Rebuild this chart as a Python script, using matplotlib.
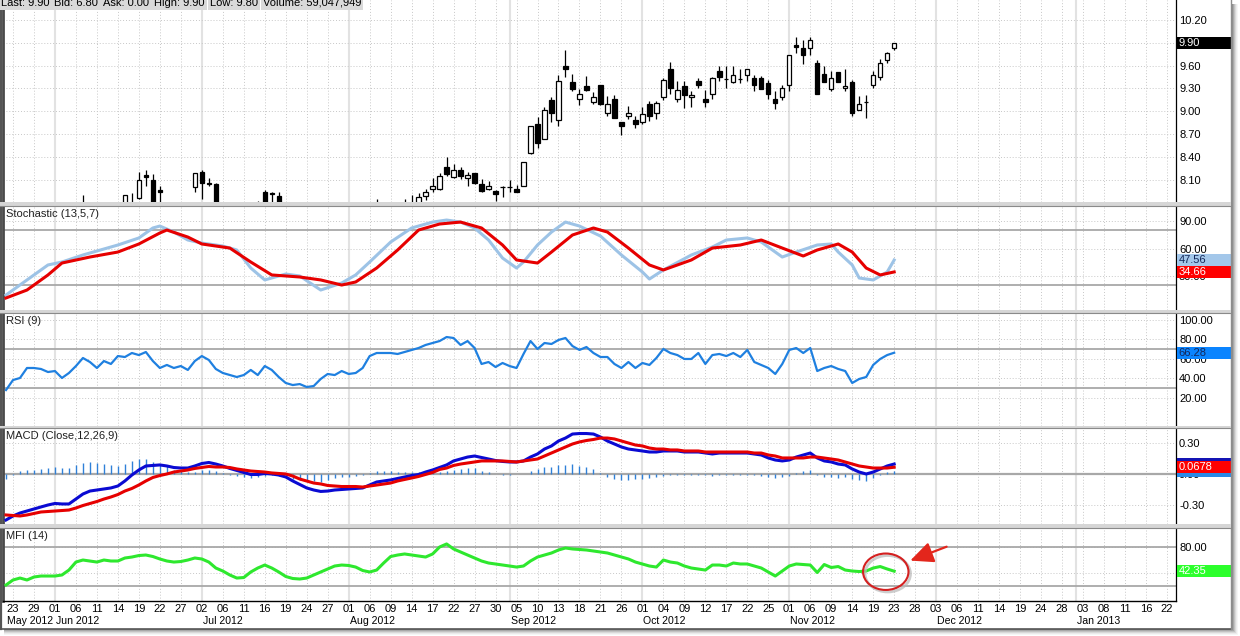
import numpy as np
import pandas as pd
import matplotlib
matplotlib.use('Agg')
import matplotlib.pyplot as plt
import matplotlib.transforms as mtrans
from matplotlib.patches import Rectangle, Ellipse
from matplotlib.lines import Line2D

plt.rcParams['font.family'] = ['Liberation Sans', 'DejaVu Sans']
plt.rcParams['font.size'] = 8

# trading calendar (US market, incl. the Sandy closure)
holidays = ['2012-05-28', '2012-07-04', '2012-09-03', '2012-10-29', '2012-10-30',
            '2012-11-22', '2012-12-25', '2013-01-01', '2013-01-21']
days = pd.bdate_range('2012-05-22', '2013-01-22')
days = days[~days.isin(pd.to_datetime(holidays))]

header = ['Last: 9.90', 'Bid: 6.80', 'Ask: 0.00', 'High: 9.90', 'Low: 9.80', 'Volume: 59,047,949']

# candles (day index into days, 0 = 2012-05-22); only the ones that show in the window
cdl_day = [11, 17, 18, 19, 20, 21, 22, 27, 28, 29, 30, 36, 37, 38, 39, 53] + list(range(57, 128))
cdl_open = [7.74, 7.72, 7.75, 7.86, 8.16, 8.10, 7.96, 8.00, 8.20, 8.05, 8.04, 7.70, 7.93, 7.92, 7.88, 7.72,
            7.72, 7.72, 7.74, 7.88, 7.97, 7.97, 8.26, 8.13, 8.23, 8.12, 8.19, 8.04, 7.97, 7.95, 8.00, 8.00,
            7.98, 8.02, 8.45, 8.83, 8.63, 9.15, 8.88, 9.59, 9.38, 9.16, 9.33, 9.12, 9.34, 8.98, 9.16, 8.86,
            8.93, 8.88, 8.86, 9.09, 8.97, 9.19, 9.55, 9.16, 9.33, 9.18, 9.39, 9.16, 9.23, 9.53, 9.42, 9.38,
            9.42, 9.47, 9.43, 9.44, 9.37, 9.16, 9.19, 9.34, 9.87, 9.83, 9.83, 9.63, 9.49, 9.29, 9.51, 9.30,
            9.38, 9.01, 9.12, 9.35, 9.45, 9.67, 9.83]
cdl_high = [7.90, 7.90, 7.92, 8.20, 8.22, 8.17, 8.01, 8.19, 8.22, 8.12, 8.06, 7.82, 7.96, 7.94, 7.94, 7.84,
            7.84, 7.90, 7.92, 7.97, 8.12, 8.18, 8.40, 8.31, 8.27, 8.20, 8.19, 8.11, 8.08, 7.96, 8.01, 8.09,
            8.03, 8.33, 8.80, 8.92, 9.05, 9.19, 9.48, 9.80, 9.49, 9.29, 9.46, 9.25, 9.34, 9.20, 9.21, 8.86,
            9.07, 8.93, 9.06, 9.13, 9.13, 9.43, 9.65, 9.39, 9.39, 9.27, 9.43, 9.28, 9.45, 9.59, 9.60, 9.59,
            9.56, 9.55, 9.48, 9.46, 9.41, 9.26, 9.34, 9.74, 9.98, 9.93, 9.97, 9.67, 9.59, 9.53, 9.52, 9.55,
            9.41, 9.20, 9.21, 9.53, 9.69, 9.78, 9.90]
cdl_low = [7.62, 7.68, 7.66, 7.84, 8.01, 7.70, 7.75, 7.94, 7.85, 8.01, 7.70, 7.65, 7.72, 7.75, 7.70, 7.68,
           7.68, 7.68, 7.72, 7.83, 7.93, 7.96, 8.14, 8.12, 8.11, 8.02, 8.04, 7.94, 7.96, 7.82, 7.87, 7.94,
           7.94, 8.02, 8.44, 8.52, 8.63, 8.86, 8.80, 9.45, 9.26, 9.08, 9.26, 9.09, 9.08, 8.94, 8.91, 8.69,
           8.89, 8.78, 8.83, 8.87, 8.90, 9.15, 9.23, 9.12, 9.04, 9.05, 9.30, 9.05, 9.16, 9.39, 9.30, 9.37,
           9.37, 9.40, 9.27, 9.29, 9.16, 9.03, 9.14, 9.27, 9.76, 9.62, 9.74, 9.22, 9.38, 9.26, 9.38, 9.27,
           8.94, 9.01, 8.91, 9.31, 9.41, 9.63, 9.80]
cdl_close = [7.70, 7.90, 7.74, 8.10, 8.13, 7.72, 7.93, 8.19, 8.05, 8.04, 7.72, 7.74, 7.74, 7.91, 7.72, 7.74,
             7.75, 7.74, 7.87, 7.93, 8.01, 8.15, 8.17, 8.22, 8.14, 8.16, 8.06, 7.95, 8.01, 7.91, 8.00, 8.00,
             7.94, 8.33, 8.80, 8.58, 9.02, 8.97, 9.40, 9.55, 9.29, 9.22, 9.28, 9.18, 9.09, 9.09, 8.91, 8.81,
             8.97, 8.83, 8.96, 8.93, 9.11, 9.41, 9.31, 9.28, 9.21, 9.21, 9.34, 9.12, 9.43, 9.45, 9.42, 9.48,
             9.42, 9.55, 9.34, 9.29, 9.23, 9.11, 9.31, 9.74, 9.84, 9.74, 9.93, 9.22, 9.38, 9.43, 9.38, 9.33,
             8.98, 9.09, 9.12, 9.48, 9.63, 9.76, 9.90]

# Stochastic (13,5,7), read at a subset of days
stoch_k_day = [0, 3, 6, 8, 11, 16, 19, 21, 22, 24, 26, 28, 31, 33, 35, 37, 40, 42, 45, 48, 50, 52, 55, 58,
               61, 63, 65, 67, 69, 71, 73, 74, 76, 78, 80, 82, 85, 88, 91, 92, 94, 98, 101, 103, 106, 108,
               110, 111, 113, 116, 118, 119, 121, 122, 124, 126, 127]
stoch_k = [9.7, 26.0, 42.2, 45.4, 53.0, 63.8, 71.4, 82.2, 84.3, 77.8, 69.2, 65.9, 62.7, 58.4, 38.9, 26.0,
           32.4, 30.3, 15.1, 22.7, 31.4, 45.4, 67.0, 82.2, 88.6, 90.8, 88.6, 82.2, 69.2, 49.7, 38.9, 45.4,
           63.8, 77.8, 88.6, 84.3, 73.5, 53.0, 34.6, 27.0, 36.8, 53.0, 61.6, 69.2, 71.4, 67.0, 56.2, 50.8,
           56.2, 63.8, 64.9, 56.2, 42.2, 28.1, 26.0, 34.6, 47.56]
stoch_d_day = [0, 3, 6, 8, 12, 16, 19, 22, 23, 26, 28, 32, 35, 38, 42, 45, 48, 50, 53, 56, 59, 62, 65, 68,
               71, 73, 76, 78, 81, 84, 86, 89, 92, 94, 98, 101, 105, 108, 111, 114, 116, 119, 121, 123, 125, 127]
stoch_d = [6.5, 15.1, 31.4, 44.3, 50.8, 56.2, 64.9, 76.8, 80.0, 72.4, 64.9, 60.5, 45.4, 31.4, 29.2, 26.0,
           20.5, 23.8, 38.9, 58.4, 80.0, 86.5, 88.6, 82.2, 63.8, 47.6, 44.3, 56.2, 74.6, 82.2, 77.8, 60.5,
           42.2, 36.8, 47.6, 60.5, 63.8, 69.2, 60.5, 51.9, 58.4, 64.9, 56.2, 38.9, 31.4, 34.66]

# daily indicators, day 0 .. 127
rsi = [28.2, 38.4, 40.5, 50.7, 50.7, 49.7, 46.6, 47.6, 40.5, 45.6,
       52.7, 60.9, 56.8, 50.7, 57.8, 54.8, 62.9, 61.9, 66.0, 63.9,
       67.0, 57.8, 50.7, 53.8, 50.7, 52.7, 48.7, 57.8, 62.9, 58.9,
       49.7, 45.6, 43.5, 41.5, 43.5, 48.7, 43.5, 52.7, 48.7, 41.5,
       35.4, 33.3, 34.3, 31.3, 32.3, 39.5, 44.6, 43.5, 47.6, 44.6,
       45.6, 50.7, 62.9, 66.0, 66.0, 66.0, 65.0, 67.0, 69.1, 71.1,
       74.2, 76.2, 78.2, 82.3, 81.3, 74.2, 78.2, 71.1, 54.8, 56.8,
       51.7, 55.8, 52.7, 50.7, 65.0, 78.2, 70.1, 76.2, 75.2, 79.3,
       81.3, 73.1, 69.1, 72.1, 66.0, 61.9, 61.9, 54.8, 50.7, 56.8,
       50.7, 55.8, 53.8, 60.9, 70.1, 66.0, 63.9, 59.9, 59.9, 66.0,
       54.8, 63.9, 65.0, 62.9, 66.0, 61.9, 69.1, 56.8, 53.8, 50.7,
       44.6, 54.8, 69.1, 71.1, 66.0, 71.1, 47.6, 50.7, 52.7, 49.7,
       47.6, 35.4, 39.5, 41.5, 53.8, 59.9, 63.9, 66.28]
macd = [-0.446, -0.407, -0.378, -0.358, -0.339, -0.319, -0.300, -0.285, -0.290, -0.290,
        -0.242, -0.193, -0.164, -0.154, -0.144, -0.134, -0.115, -0.066, -0.008, 0.041,
        0.080, 0.085, 0.090, 0.080, 0.065, 0.060, 0.060, 0.080, 0.104, 0.114,
        0.099, 0.080, 0.056, 0.036, 0.017, -0.003, -0.003, 0.007, 0.002, -0.008,
        -0.027, -0.066, -0.100, -0.134, -0.154, -0.168, -0.164, -0.154, -0.149, -0.144,
        -0.139, -0.134, -0.105, -0.076, -0.066, -0.056, -0.042, -0.027, -0.013, -0.003,
        0.021, 0.041, 0.065, 0.090, 0.129, 0.148, 0.167, 0.177, 0.163, 0.148,
        0.133, 0.124, 0.119, 0.119, 0.129, 0.167, 0.197, 0.245, 0.275, 0.323,
        0.352, 0.391, 0.396, 0.396, 0.391, 0.362, 0.323, 0.294, 0.265, 0.245,
        0.236, 0.226, 0.216, 0.216, 0.226, 0.226, 0.226, 0.216, 0.216, 0.216,
        0.206, 0.197, 0.206, 0.206, 0.206, 0.206, 0.206, 0.197, 0.187, 0.158,
        0.138, 0.129, 0.138, 0.167, 0.187, 0.206, 0.158, 0.129, 0.119, 0.099,
        0.090, 0.051, 0.021, 0.002, 0.021, 0.051, 0.080, 0.099]
signal = [-0.397, -0.402, -0.407, -0.397, -0.383, -0.368, -0.363, -0.358, -0.353, -0.349,
          -0.329, -0.305, -0.285, -0.266, -0.242, -0.222, -0.198, -0.164, -0.139, -0.105,
          -0.066, -0.032, -0.013, 0.002, 0.021, 0.031, 0.041, 0.056, 0.065, 0.075,
          0.070, 0.070, 0.065, 0.051, 0.041, 0.031, 0.026, 0.021, 0.012, 0.007,
          0.002, -0.018, -0.047, -0.066, -0.086, -0.095, -0.110, -0.115, -0.120, -0.120,
          -0.120, -0.125, -0.115, -0.105, -0.095, -0.086, -0.066, -0.052, -0.037, -0.022,
          -0.003, 0.017, 0.046, 0.060, 0.085, 0.099, 0.109, 0.119, 0.129, 0.129,
          0.129, 0.129, 0.124, 0.119, 0.129, 0.138, 0.148, 0.177, 0.206, 0.236,
          0.265, 0.294, 0.314, 0.328, 0.338, 0.352, 0.352, 0.343, 0.323, 0.304,
          0.284, 0.275, 0.255, 0.245, 0.245, 0.236, 0.236, 0.226, 0.226, 0.226,
          0.216, 0.216, 0.216, 0.216, 0.216, 0.216, 0.216, 0.206, 0.206, 0.187,
          0.177, 0.158, 0.158, 0.158, 0.158, 0.167, 0.167, 0.158, 0.148, 0.138,
          0.119, 0.099, 0.080, 0.070, 0.060, 0.060, 0.060, 0.0678]
mfi = [21.1, 28.8, 31.8, 28.8, 33.4, 34.9, 34.9, 34.9, 36.5, 44.1,
       56.4, 59.5, 58.0, 56.4, 59.5, 58.0, 58.0, 62.6, 64.1, 66.4,
       67.2, 64.9, 61.1, 58.0, 56.4, 57.2, 59.5, 62.6, 61.1, 56.4,
       47.2, 42.6, 36.5, 31.8, 32.6, 41.1, 47.2, 51.8, 47.2, 41.1,
       34.2, 31.1, 30.3, 31.8, 36.5, 41.1, 45.7, 50.3, 51.8, 51.1,
       48.7, 43.4, 41.1, 44.1, 54.9, 64.9, 67.2, 68.8, 67.2, 65.7,
       64.1, 68.8, 79.5, 84.2, 76.5, 71.8, 67.2, 62.6, 58.0, 54.9,
       53.4, 51.8, 50.3, 48.7, 50.3, 58.0, 64.1, 67.2, 70.3, 74.9,
       78.0, 76.5, 75.7, 74.9, 73.4, 71.8, 70.3, 67.2, 64.1, 61.1,
       56.4, 53.4, 50.3, 48.7, 59.5, 56.4, 54.9, 50.3, 47.2, 45.7,
       44.1, 51.8, 51.8, 50.3, 54.9, 53.4, 53.4, 50.3, 47.2, 41.1,
       34.9, 42.6, 50.3, 53.4, 52.6, 51.8, 40.3, 52.6, 48.0, 49.5,
       44.1, 42.6, 41.8, 42.6, 47.2, 49.5, 45.7, 42.35]

ind_day = np.arange(len(rsi))
hist = np.array(macd) - np.array(signal)

# ---------------------------------------------------------------- layout
W, H = 1240, 636
L, R = 3, 1176
XL = (-0.43, 167.3)

fig = plt.figure(figsize=(W / 100, H / 100), dpi=100)
fig.patch.set_facecolor('white')

label_days = np.arange(1, len(days), 3)
month_start = [i for i in range(1, len(days)) if days[i].month != days[i - 1].month]


def make_panel(top, bot, ylim, ticks):
    ax = fig.add_axes([L / W, 1 - bot / H, (R - L) / W, (bot - top) / H])
    ax.set_xlim(*XL)
    ax.set_ylim(*ylim)
    ax.set_facecolor('white')
    for s in ('top', 'bottom'):
        ax.spines[s].set_visible(False)
    ax.spines['left'].set_color('#4a4a4a')
    ax.spines['left'].set_linewidth(2)
    ax.spines['right'].set_color('black')
    ax.spines['right'].set_linewidth(0.9)
    ax.yaxis.tick_right()
    ax.set_yticks(ticks)
    ax.set_yticklabels(['%.2f' % t for t in ticks])
    ax.tick_params(axis='y', length=0, pad=2.2, labelsize=8, colors='black')
    ax.set_xticks([])
    ax.vlines(label_days, ylim[0], ylim[1], colors='#c8c8c8', linestyles=(0, (1, 2)), lw=0.7, zorder=0)
    ax.vlines(month_start, ylim[0], ylim[1], colors='#e2e2e2', lw=1.5, zorder=0)
    ax.hlines(ticks, XL[0], XL[1], colors='#c8c8c8', linestyles=(0, (1, 2)), lw=0.7, zorder=0)
    return ax


def title(ax, s):
    ax.annotate(s, xy=(0, 1), xycoords='axes fraction', xytext=(3, -2), textcoords='offset pixels',
                va='top', ha='left', fontsize=8, color='#202020')


def value_box(ax, v, txt, fc, tc):
    tr = mtrans.blended_transform_factory(ax.transAxes, ax.transData)
    y0, y1 = ax.get_ylim()
    hh = 6.2 * (y1 - y0) / (ax.get_position().height * H)
    x0 = (R + 1 - L) / (R - L)
    ax.add_patch(Rectangle((x0, v - hh), 54 / (R - L), 2 * hh, transform=tr, fc=fc, ec='none',
                           clip_on=False, zorder=6))
    if txt:
        ax.text(x0 + 1.5 / (R - L), v, txt, transform=tr, color=tc, va='center', ha='left',
                fontsize=8, clip_on=False, zorder=7)


# price
ax1 = make_panel(0, 202, (7.804, 10.462), np.arange(8.10, 10.21, 0.30))
o, h, l, c = map(np.array, (cdl_open, cdl_high, cdl_low, cdl_close))
ax1.vlines(cdl_day, l, h, colors='black', lw=0.9, zorder=2)
ax1.bar(cdl_day, np.maximum(np.abs(c - o), 0.004), bottom=np.minimum(o, c), width=0.62,
        color=['white' if up else 'black' for up in c >= o], edgecolor='black', lw=0.9, zorder=3)
value_box(ax1, cdl_close[-1], '%.2f' % cdl_close[-1], 'black', 'white')

# stochastic
ax2 = make_panel(207, 310, (-6.5, 104.9), [30, 60, 90])
ax2.axhline(80, color='#a8a8a8', lw=1.3, zorder=1)
ax2.axhline(20, color='#a8a8a8', lw=1.3, zorder=1)
ax2.plot(stoch_k_day, stoch_k, color='#9dc3e6', lw=2.2, zorder=3)
ax2.plot(stoch_d_day, stoch_d, color='#e60000', lw=2.2, zorder=4)
title(ax2, 'Stochastic (13,5,7)')
value_box(ax2, stoch_k[-1], '%.2f' % stoch_k[-1], '#a3c7ea', '#14285a')
value_box(ax2, stoch_d[-1], '%.2f' % stoch_d[-1], '#ff0000', 'white')

# RSI
ax3 = make_panel(314, 426, (-8.5, 105.8), [20, 40, 60, 80, 100])
ax3.axhline(70, color='#a8a8a8', lw=1.3, zorder=1)
ax3.axhline(30, color='#a8a8a8', lw=1.3, zorder=1)
ax3.plot(ind_day, rsi, color='#1f80e0', lw=1.6, zorder=3)
title(ax3, 'RSI (9)')
value_box(ax3, rsi[-1], '%.2f' % rsi[-1], '#0a84ff', '#14285a')

# MACD
ax4 = make_panel(429, 524, (-0.485, 0.440), [-0.30, 0.0, 0.30])
ax4.axhline(0, color='#a8a8a8', lw=1.6, zorder=1)
ax4.vlines(ind_day, 0, hist, colors='#2f80d8', lw=1.0, zorder=2)
ax4.plot(ind_day, macd, color='#0a0ad2', lw=2.2, zorder=3)
ax4.plot(ind_day, signal, color='#e60000', lw=2.2, zorder=4)
title(ax4, 'MACD (Close,12,26,9)')
value_box(ax4, macd[-1], '', '#1414b4', 'white')
value_box(ax4, hist[-1], '', '#2a8ae6', 'white')
value_box(ax4, signal[-1], '%.4f' % signal[-1], '#ff0000', 'white')

# MFI
ax5 = make_panel(529, 601, (-3.5, 107.2), [40, 80])
ax5.spines['bottom'].set_visible(True)
ax5.spines['bottom'].set_color('black')
ax5.spines['bottom'].set_linewidth(1.0)
ax5.axhline(80, color='#a8a8a8', lw=1.3, zorder=1)
ax5.axhline(20, color='#a8a8a8', lw=1.3, zorder=1)
ax5.plot(ind_day, mfi, color='#2ee82e', lw=2.2, zorder=3)
title(ax5, 'MFI (14)')
value_box(ax5, mfi[-1], '%.2f' % mfi[-1], '#2cff2c', 'white')

# circled last stretch and arrow
sh = mtrans.offset_copy(ax5.transData, fig=fig, x=2, y=-2, units='dots')
ax5.add_patch(Ellipse((125.8, 41.5), 6.5, 56, transform=sh, fill=False, ec='#b8b8b8', lw=2.0,
                      alpha=0.7, zorder=5, clip_on=False))
ax5.add_patch(Ellipse((125.8, 41.5), 6.5, 56, fill=False, ec='#d42020', lw=1.5, zorder=6, clip_on=False))
ax5.annotate('', xy=(129.3, 58.6), xytext=(134.5, 80), annotation_clip=False,
             arrowprops=dict(arrowstyle='-|>,head_length=0.7,head_width=0.32', mutation_scale=20,
                             color='#e3261c', lw=1.6, shrinkA=0, shrinkB=0))

# date axis: day numbers every third session, month names at the month's first session
ax5.set_xticks(label_days)
ax5.set_xticklabels([days[i].strftime('%d') for i in label_days])
ax5.tick_params(axis='x', length=0, pad=2.2, labelsize=8, colors='black')
mtr = mtrans.offset_copy(mtrans.blended_transform_factory(ax5.transData, ax5.transAxes),
                         fig=fig, x=1, y=-15, units='dots')
for i in [0] + month_start:
    ax5.text(i, 0, days[i].strftime('%b %Y'), transform=mtr, ha='left', va='top', fontsize=7.6,
             clip_on=False)

# panel separators
for y0, y1 in [(202, 207), (310, 314), (426, 429), (524, 529)]:
    fig.add_artist(Rectangle((0, 1 - y1 / H), 1231 / W, (y1 - y0) / H, transform=fig.transFigure,
                             fc='#d6d6d6', ec='none', zorder=5))
    fig.add_artist(Line2D([0, 1231 / W], [1 - (y1 - 0.7) / H] * 2, transform=fig.transFigure,
                          color='#8a8a8a', lw=0.8, zorder=6))

# frame and drop shadow
fig.add_artist(Line2D([1.2 / W] * 2, [1 - 629 / H, 1], transform=fig.transFigure, color='#555555', lw=1.6))
fig.add_artist(Line2D([0, 1231 / W], [1 - 628.5 / H] * 2, transform=fig.transFigure, color='#555555', lw=1.2))
fig.add_artist(Line2D([1231 / W] * 2, [1 - 629 / H, 1], transform=fig.transFigure, color='#8c8c8c', lw=1.0))
for k, col in enumerate(['#8f8f8f', '#a8a8a8', '#c2c2c2', '#d9d9d9', '#ebebeb', '#f6f6f6']):
    fig.add_artist(Rectangle(((1232 + k) / W, 1 - (630 + k) / H), 1 / W, (626 + k) / H,
                             transform=fig.transFigure, fc=col, ec='none'))
    fig.add_artist(Rectangle((4 / W, 1 - (630 + k) / H), (1228 + k) / W, 1 / H,
                             transform=fig.transFigure, fc=col, ec='none'))

# quote header, clipped at the top edge as in the source screenshot
r = fig.canvas.get_renderer()
xpos = 1.0
for s in header:
    t = fig.text(xpos / W, 1 - 5.8 / H, s, ha='left', va='baseline', fontsize=8, color='black',
                 bbox=dict(boxstyle='square,pad=0.2', fc='#d9d9d9', ec='none'), zorder=10)
    xpos += t.get_window_extent(r).width + 5

fig.savefig('out.png', dpi=100)
